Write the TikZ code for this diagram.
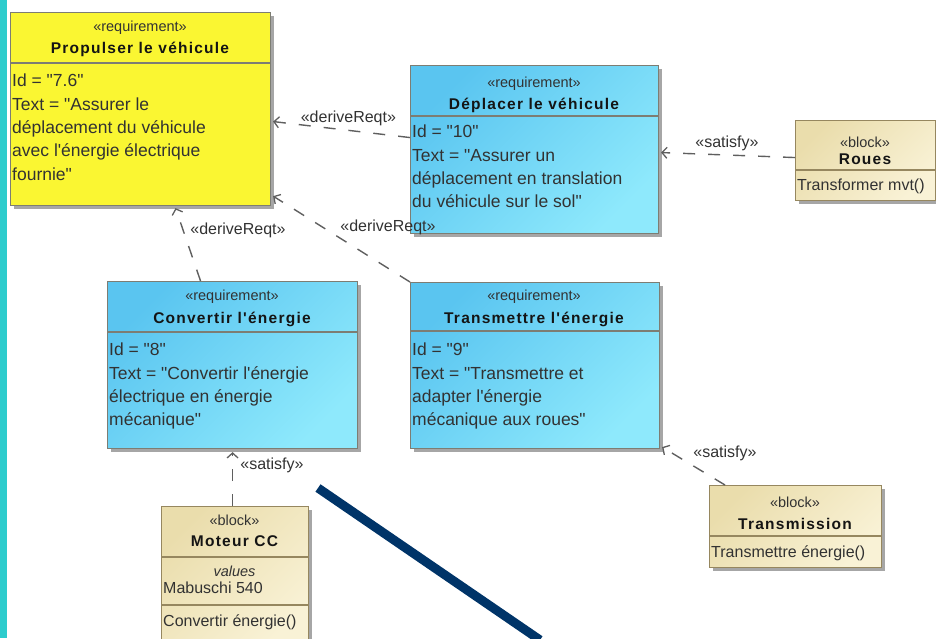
\documentclass[tikz,border=0pt]{standalone}
\usepackage{fontspec}
\setmainfont{Liberation Sans}[Ligatures=TeXOff]
\newfontfamily\titlefont{Liberation Sans}[LetterSpace=8,Ligatures=TeXOff]
\usetikzlibrary{shadows,arrows.meta}

\definecolor{tealband}{RGB}{45,204,205}
\definecolor{reqyellow}{RGB}{250,246,50}
\definecolor{reqblueA}{RGB}{90,197,240}
\definecolor{reqblueB}{RGB}{142,233,252}
\definecolor{blockA}{RGB}{234,221,172}
\definecolor{blockB}{RGB}{249,242,214}
\definecolor{reqline}{RGB}{125,125,115}
\definecolor{blockline}{RGB}{150,135,95}
\definecolor{shadowgray}{RGB}{150,150,150}
\definecolor{inkgray}{RGB}{50,50,50}
\definecolor{inkdark}{RGB}{20,20,20}
\definecolor{linkgray}{RGB}{95,95,95}
\definecolor{navystroke}{RGB}{0,52,104}

\tikzset{
  boxbase/.style n args={2}{anchor=north west, inner sep=0pt,
    minimum width=#1, minimum height=#2, line width=1.1pt,
    drop shadow={shadow xshift=3.5pt, shadow yshift=-3.5pt, fill=shadowgray, opacity=0.85}},
  yellowreq/.style n args={2}{boxbase={#1}{#2}, draw=reqline, fill=reqyellow},
  bluereq/.style n args={2}{boxbase={#1}{#2}, draw=reqline,
    top color=reqblueA, bottom color=reqblueB, shading angle=45},
  blockbox/.style n args={2}{boxbase={#1}{#2}, draw=blockline,
    top color=blockA, bottom color=blockB, shading angle=45},
  reqsep/.style={draw=reqline, line width=1.1pt},
  blocksep/.style={draw=blockline, line width=1.1pt},
  stereo/.style={font=\fontsize{14.5}{16}\selectfont, text=inkgray, inner sep=0pt},
  boxtitle/.style={font=\titlefont\bfseries\fontsize{15.5}{18}\selectfont, text=inkdark, inner sep=0pt},
  body/.style={font=\fontsize{17.5}{23.3}\selectfont, text=inkgray, align=left,
    anchor=north west, inner sep=0pt},
  blockline/.style={font=\fontsize{16}{18}\selectfont, text=inkgray, inner sep=0pt},
  linklabel/.style={font=\fontsize{16}{18}\selectfont, text=inkgray, inner sep=0pt},
  relation/.style={draw=linkgray, line width=1.4pt, dash pattern=on 12pt off 13pt,
    -{Straight Barb[length=5pt,width=11pt,line width=1.3pt]}},
}

\begin{document}
\begin{tikzpicture}[x=1pt,y=-1pt]
\useasboundingbox (0,0) rectangle (936,638);
\fill[tealband] (0,0) rectangle (7,638);

% requirement: Propulser le vehicule
\node[yellowreq={260}{193}] (prop) at (10,12) {};
\draw[reqsep] ([yshift=-51pt]prop.north west) -- ([yshift=-51pt]prop.north east);
\node[stereo] (propS) at (140,28) {«requirement»};
\node[boxtitle] (propT) at (140,49) {Propulser le véhicule};
\node[body] (propB) at (12,74) {Id = "7.6"\\Text = "Assurer le\\déplacement du véhicule\\avec l'énergie électrique\\fournie"};

% requirement: Deplacer le vehicule
\node[bluereq={248}{168}] (dep) at (410,65) {};
\draw[reqsep] ([yshift=-51pt]dep.north west) -- ([yshift=-51pt]dep.north east);
\node[stereo] (depS) at (534,84) {«requirement»};
\node[boxtitle] (depT) at (534,105) {Déplacer le véhicule};
\node[body] (depB) at (412,125) {Id = "10"\\Text = "Assurer un\\déplacement en translation\\du véhicule sur le sol"};

% block: Roues
\node[blockbox={140}{80}] (roues) at (795,120) {};
\draw[blocksep] ([yshift=-50pt]roues.north west) -- ([yshift=-50pt]roues.north east);
\node[stereo] (rouesS) at (865,142) {«block»};
\node[boxtitle] (rouesT) at (865,159) {Roues};
\node[blockline, anchor=west] (rouesO) at (797,186) {Transformer mvt()};

% requirement: Convertir l'energie
\node[bluereq={250}{167}] (conv) at (107,281) {};
\draw[reqsep] ([yshift=-51pt]conv.north west) -- ([yshift=-51pt]conv.north east);
\node[stereo] (convS) at (232,297) {«requirement»};
\node[boxtitle] (convT) at (232,319) {Convertir l'énergie};
\node[body] (convB) at (109,343) {Id = "8"\\Text = "Convertir l'énergie\\électrique en énergie\\mécanique"};

% requirement: Transmettre l'energie
\node[bluereq={249}{166}] (trans) at (410,282) {};
\draw[reqsep] ([yshift=-49pt]trans.north west) -- ([yshift=-49pt]trans.north east);
\node[stereo] (transS) at (534,297) {«requirement»};
\node[boxtitle] (transT) at (534,319) {Transmettre l'énergie};
\node[body] (transB) at (412,343) {Id = "9"\\Text = "Transmettre  et\\adapter l'énergie\\mécanique aux roues"};

% block: Moteur CC
\node[blockbox={147}{140}] (moteur) at (161,506) {};
\draw[blocksep] ([yshift=-51pt]moteur.north west) -- ([yshift=-51pt]moteur.north east);
\draw[blocksep] ([yshift=-99pt]moteur.north west) -- ([yshift=-99pt]moteur.north east);
\node[stereo] (moteurS) at (234.5,520) {«block»};
\node[boxtitle] (moteurT) at (234.5,541) {Moteur CC};
\node[blockline, font=\itshape\fontsize{14.5}{16}\selectfont] (moteurV) at (234.5,571) {values};
\node[blockline, anchor=west] (moteurM) at (163,588) {Mabuschi 540};
\node[blockline, anchor=west] (moteurO) at (163,622) {Convertir énergie()};

% block: Transmission
\node[blockbox={172}{82}] (transm) at (709,485) {};
\draw[blocksep] ([yshift=-51pt]transm.north west) -- ([yshift=-51pt]transm.north east);
\node[stereo] (transmS) at (795,502) {«block»};
\node[boxtitle] (transmT) at (795,524) {Transmission};
\node[blockline, anchor=west] (transmO) at (711,553) {Transmettre énergie()};

% dependencies
\draw[relation] ([yshift=12pt]dep.west) -- ([xshift=2pt,yshift=-12.5pt]prop.east)
  node[linklabel, pos=0.45, above=4pt] (l1) {«deriveReqt»};
\draw[relation] (trans.north west) -- ([xshift=2pt,yshift=10pt]prop.south east);
\node[linklabel] (l2) at (388,227) {«deriveReqt»};
\draw[relation] ([xshift=-32pt]conv.north) -- ([xshift=35pt,yshift=-2pt]prop.south);
\node[linklabel] (l3) at (238,230) {«deriveReqt»};
\draw[relation] ([yshift=3pt]roues.west) -- ([xshift=2pt,yshift=-3pt]dep.east);
\node[linklabel] (l4) at (727,143) {«satisfy»};
\draw[relation] ([xshift=-2.5pt]moteur.north) -- ([yshift=-3pt]conv.south);
\node[linklabel] (l5) at (272,465) {«satisfy»};
\draw[relation] ([xshift=16pt]transm.north west) -- ([xshift=2pt,yshift=2pt]trans.south east);
\node[linklabel] (l6) at (725,453) {«satisfy»};

% freehand stroke
\coordinate (strokeA) at (318,488);
\coordinate (strokeB) at (540,640);
\draw[navystroke, line width=9pt] (strokeA) -- (strokeB);
\end{tikzpicture}
\end{document}
